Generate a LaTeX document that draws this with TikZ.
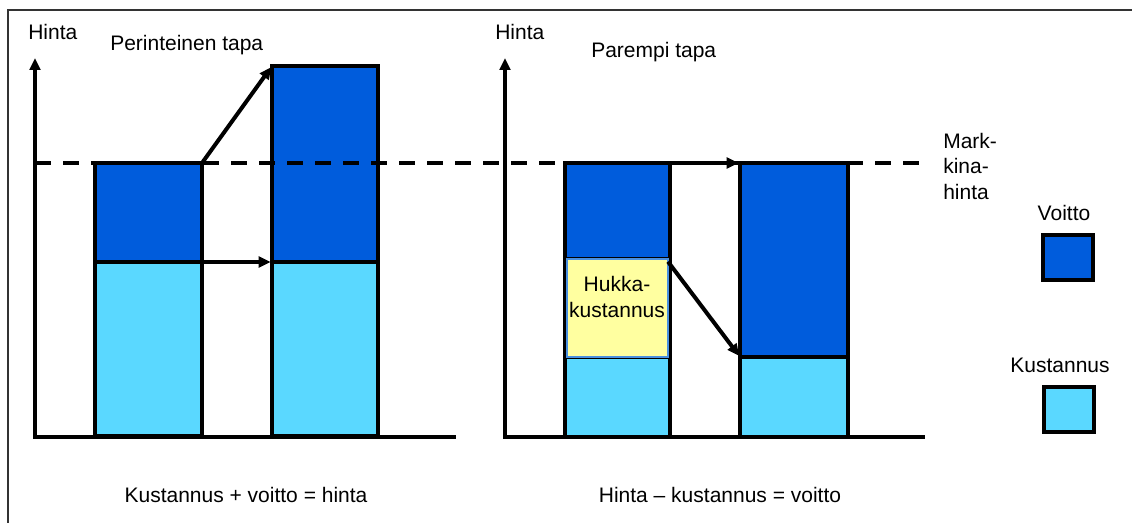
\documentclass[tikz,border=0pt]{standalone}
\usepackage{fontspec}
\setmainfont{Liberation Sans}
\usetikzlibrary{arrows.meta,fit}
\definecolor{profitblue}{HTML}{005CDC}
\definecolor{costblue}{HTML}{5AD8FF}
\definecolor{wasteyellow}{HTML}{FFFFA0}
\definecolor{wasteedge}{HTML}{4A90E0}
\tikzset{
  seg/.style={inner sep=0pt, outer sep=0pt, draw=black, line width=3pt},
  profit/.style={seg, fill=profitblue},
  cost/.style={seg, fill=costblue},
  waste/.style={inner sep=0pt, outer sep=0pt, draw=wasteedge, line width=0.8pt, fill=wasteyellow,
     font=\fontsize{15.75}{19}\selectfont, align=center},
  axis/.style={line width=3pt, -{Triangle[length=9pt,width=8pt]}},
  base/.style={line width=3pt},
  move/.style={line width=3pt, -{Triangle[length=9pt,width=8pt]}, shorten >=1pt},
  market/.style={line width=3pt, dash pattern=on 12pt off 9pt},
  lbl/.style={inner sep=0pt, font=\fontsize{15.75}{19}\selectfont},
  legendbox/.style={seg, minimum width=37.5pt, minimum height=33.75pt},
}
\begin{document}
\begin{tikzpicture}[x=0.75pt, y=-0.75pt]
\useasboundingbox (0,0) rectangle (1132,523);
% frame
\draw[line width=1.1pt, black!80] (8,523) -- (8,10) -- (1132,10);

% left panel bars
\node[profit, fit={(95,163)(202,262)}] (p1) {};
\node[cost, fit={(95,262)(202,436)}] (c1) {};
\node[profit, fit={(272,66)(378,262)}] (p2) {};
\node[cost, fit={(272,262)(378,436)}] (c2) {};

% right panel bars
\node[profit, fit={(565,163)(670,259)}] (q1) {};
\node[cost, fit={(565,357)(670,437)}] (d1) {};
\node[seg, fill=costblue, draw=none, fit={(565,259)(670,357)}] (wbg) {};
\draw[line width=3pt] (q1.north west) -- (d1.south west);
\draw[line width=3pt] (q1.north east) -- (d1.south east);
\node[waste, fit={(567,259)(668,357)}] (w) {};
\node[lbl, align=center] (wt) at (617,297) {Hukka-\\kustannus};
\node[profit, fit={(740,163)(848,357)}] (q2) {};
\node[cost, fit={(740,357)(848,437)}] (d2) {};

% axes
\coordinate (o1) at (35,437);
\coordinate (t1) at (35,58);
\coordinate (e1) at (456,437);
\coordinate (o2) at (505,437);
\coordinate (t2) at (505,58);
\coordinate (e2) at (925,437);
\draw[axis] (o1) -- (t1);
\draw[base] ([xshift=-1.5pt]o1) -- (e1);
\draw[axis] (o2) -- (t2);
\draw[base] ([xshift=-1.5pt]o2) -- (e2);

% market price line
\coordinate (m1) at (35,163);
\coordinate (m2) at (925,163);
\draw[market] (m1) -- (m2);

% arrows
\draw[move] (p1.north east) -- (p2.north west);
\draw[move] (p1.south east) -- (c2.north west);
\draw[move] (q1.north east) -- (q2.north west);
\draw[move] ([yshift=-2pt]w.north east) -- (q2.south west);

% texts
\node[lbl, anchor=west] (h1) at (28,32) {Hinta};
\node[lbl, anchor=west] (tt1) at (110,45) {Perinteinen tapa};
\node[lbl, anchor=west] (h2) at (495,32) {Hinta};
\node[lbl, anchor=west] (tt2) at (591,52) {Parempi tapa};
\node[lbl, anchor=north west, align=left] (mk) at (943,133) {Mark-\\kina-\\hinta};
\node[lbl] (f1) at (246,495) {Kustannus + voitto = hinta};
\node[lbl] (f2) at (720,495) {Hinta – kustannus = voitto};

% legend
\node[lbl] (lv) at (1064,213) {Voitto};
\node[legendbox, fill=profitblue] (bv) at (1067.5,257.5) {};
\node[lbl] (lk) at (1060,365) {Kustannus};
\node[legendbox, fill=costblue] (bk) at (1068.5,409.5) {};
\end{tikzpicture}
\end{document}
